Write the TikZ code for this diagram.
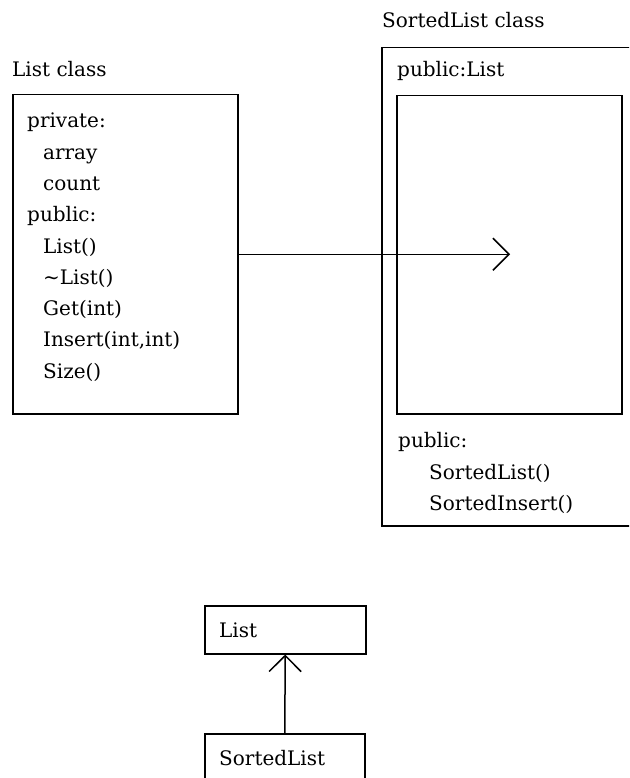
\documentclass[tikz,border=0pt]{standalone}
\usepackage{fontspec}
\setmainfont{DejaVu Serif}
\usetikzlibrary{arrows.meta}
\begin{document}
\begin{tikzpicture}[x=1pt,y=-1pt,
  box/.style={draw, line width=1.5pt, inner sep=0pt, anchor=north west},
  txt/.style={anchor=base west, inner sep=0pt, font=\fontsize{20}{24}\selectfont},
  link/.style={line width=1.5pt},
  openhead/.style={-{Straight Barb[length=16pt,width=32pt]}}]
\clip (0,0) rectangle (629,778);
\fill[white] (0,0) rectangle (629,778);

% ---- List class ----
\node[txt] (listlabel) at (12,77) {List class};
\node[box, minimum width=225pt, minimum height=319pt] (listbox) at (12,94) {};
\foreach \t/\x [count=\i] in {private:/27, array/43, count/43, public:/27,
    List()/43, \textasciitilde List()/43, Get(int)/43, {Insert(int,int)}/43, Size()/43}
  \node[txt] (m\i) at (\x,{128+31.25*(\i-1)}) {\t};

% ---- SortedList class ----
\node[txt] (sllabel) at (382,28) {SortedList class};
\node[box, minimum width=260pt, minimum height=478pt] (slbox) at (381,47) {};
\node[txt] (inherit) at (397,77) {public:List};
\node[box, minimum width=225pt, minimum height=318pt] (inner) at (396,95) {};
\node[txt] (pub) at (398,447) {public:};
\node[txt] (ctor) at (429,479) {SortedList()};
\node[txt] (ins) at (429,510) {SortedInsert()};

\coordinate (tip) at (510,253);
\draw[link, openhead] (listbox.east) -- (listbox.east -| tip);

% ---- hierarchy ----
\node[box, minimum width=161pt, minimum height=48pt] (base) at (204,605) {};
\node[txt] (basetxt) at (219,637) {List};
\node[box, minimum width=160pt, minimum height=80pt] (derived) at (204,733) {};
\node[txt] (derivedtxt) at (219,765) {SortedList};
\draw[link, openhead] (derived.north) -- (base.south);
\end{tikzpicture}
\end{document}
